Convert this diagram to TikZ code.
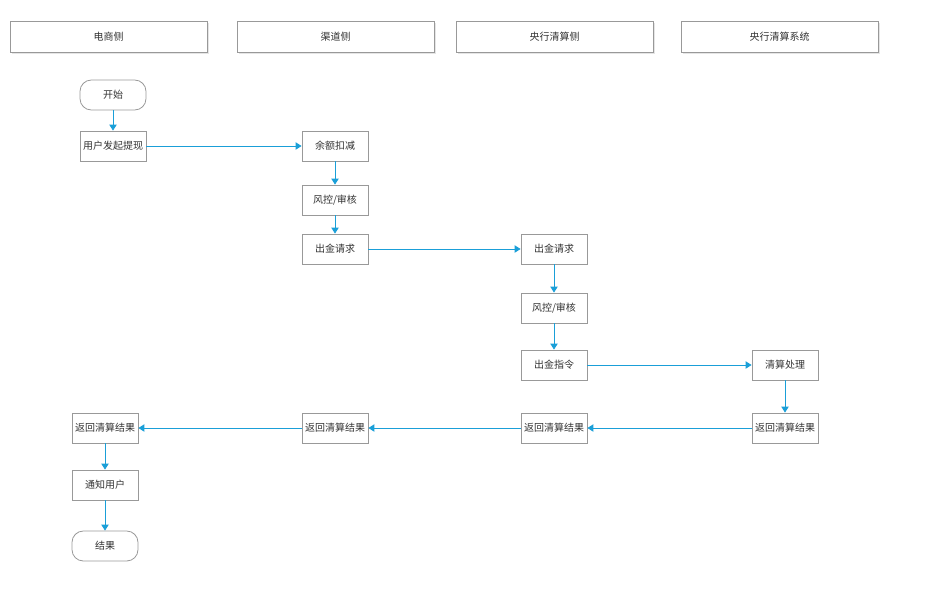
\documentclass[tikz,border=0pt]{standalone}
\usepackage{fontspec}
\setmainfont{Noto Sans CJK SC}
\usetikzlibrary{arrows.meta}
\definecolor{arr}{HTML}{1A9FD8}
\definecolor{bord}{HTML}{999999}
\definecolor{txt}{HTML}{333333}
\begin{document}
\begin{tikzpicture}[x=0.75pt,y=-0.75pt,
  hdr/.style={draw=bord,line width=0.6pt,minimum width=197*0.75pt,minimum height=31*0.75pt,inner sep=0pt,font=\fontsize{7.5pt}{9pt}\selectfont,text=txt,fill=white},
  proc/.style={draw=bord,line width=0.6pt,minimum width=66*0.75pt,minimum height=30*0.75pt,inner sep=0pt,font=\fontsize{7.5pt}{9pt}\selectfont,text=txt,fill=white},
  term/.style={proc,rounded corners=8.5pt},
  flow/.style={draw=arr,line width=0.75pt,-{Triangle[width=5.5pt,length=4.5pt]}}]
\useasboundingbox (0,0) rectangle (938,590);
% header shadows
\foreach \x in {10,237,456,681}{\fill[black!10] (\x+1.5,22.5) rectangle (\x+198.5,53.5);}
\node[hdr] (h1) at (108.5,36.5) {电商侧};
\node[hdr] (h2) at (335.5,36.5) {渠道侧};
\node[hdr] (h3) at (554.5,36.5) {央行清算侧};
\node[hdr] (h4) at (779.5,36.5) {央行清算系统};
% nodes
\node[term] (start) at (113,95) {开始};
\node[proc] (n1) at (113,146) {用户发起提现};
\node[proc] (n2) at (335,146) {余额扣减};
\node[proc] (n3) at (335,200) {风控/审核};
\node[proc] (n4) at (335,249) {出金请求};
\node[proc] (n5) at (554,249) {出金请求};
\node[proc] (n6) at (554,308) {风控/审核};
\node[proc] (n7) at (554,365) {出金指令};
\node[proc] (n8) at (785,365) {清算处理};
\node[proc] (n9) at (785,428) {返回清算结果};
\node[proc] (n10) at (554,428) {返回清算结果};
\node[proc] (n11) at (335,428) {返回清算结果};
\node[proc] (n12) at (105,428) {返回清算结果};
\node[proc] (n13) at (105,485) {通知用户};
\node[term] (end) at (105,546) {结果};
% connectors
\draw[flow] (start) -- (n1);
\draw[flow] (n1) -- (n2);
\draw[flow] (n2) -- (n3);
\draw[flow] (n3) -- (n4);
\draw[flow] (n4) -- (n5);
\draw[flow] (n5) -- (n6);
\draw[flow] (n6) -- (n7);
\draw[flow] (n7) -- (n8);
\draw[flow] (n8) -- (n9);
\draw[flow] (n9) -- (n10);
\draw[flow] (n10) -- (n11);
\draw[flow] (n11) -- (n12);
\draw[flow] (n12) -- (n13);
\draw[flow] (n13) -- (end);
\end{tikzpicture}
\end{document}
